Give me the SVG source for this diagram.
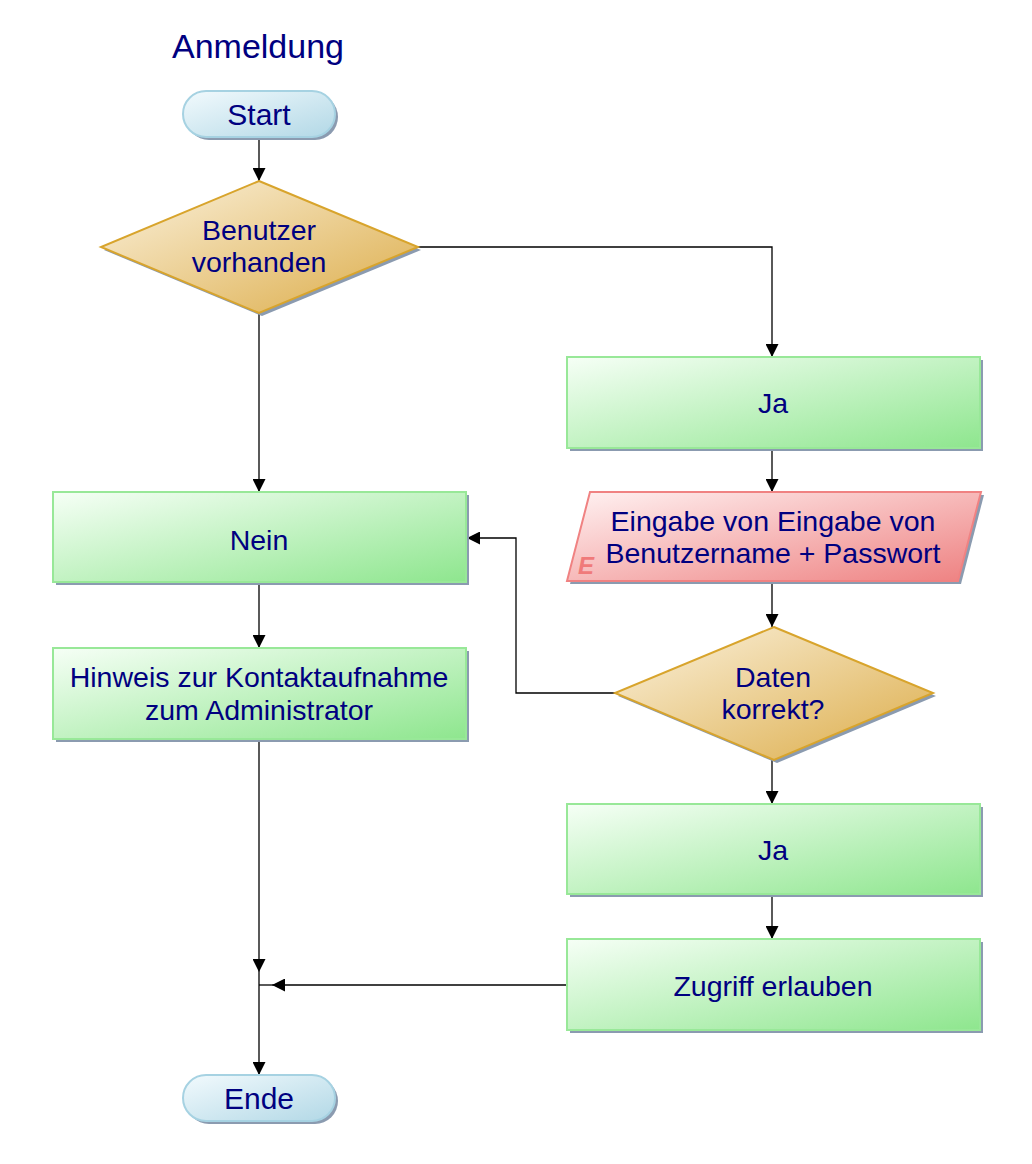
<svg xmlns="http://www.w3.org/2000/svg" width="1032" height="1164" viewBox="0 0 1032 1164">
<defs>
<linearGradient id="gGreen" x1="0" y1="0" x2="1" y2="1"><stop offset="0" stop-color="#f6fff6"/><stop offset="1" stop-color="#8ee68e"/></linearGradient>
<linearGradient id="gGold" x1="0" y1="0" x2="1" y2="1"><stop offset="0" stop-color="#fbf2de"/><stop offset="1" stop-color="#dcac48"/></linearGradient>
<linearGradient id="gBlue" x1="0" y1="0" x2="1" y2="1"><stop offset="0" stop-color="#f2fafd"/><stop offset="1" stop-color="#b2d8e6"/></linearGradient>
<linearGradient id="gRed" x1="0" y1="0" x2="1" y2="1"><stop offset="0" stop-color="#fff2f2"/><stop offset="1" stop-color="#ee8080"/></linearGradient>
<marker id="arr" markerUnits="userSpaceOnUse" markerWidth="13" markerHeight="13" refX="13" refY="6.5" orient="auto" viewBox="0 0 13 13"><path d="M0,0 L13,6.5 L0,13 z" fill="#000"/></marker>
</defs>
<style>
text{font-family:"Liberation Sans",Arial,sans-serif;fill:#000080;text-anchor:middle}
.t{font-size:28.5px}
.term{font-size:30px}
.sh{fill:#8b9bb0}
.box{fill:url(#gGreen);stroke:#98e898;stroke-width:2}
.dia{fill:url(#gGold);stroke:#d8a42c;stroke-width:2}
.ter{fill:url(#gBlue);stroke:#a6d2e2;stroke-width:2}
.par{fill:url(#gRed);stroke:#f08282;stroke-width:2}
.c{fill:none;stroke:#000;stroke-width:1.3}
.ca{fill:none;stroke:#000;stroke-width:1.3;marker-end:url(#arr)}
</style>
<rect width="1032" height="1164" fill="#fff"/>
<text x="172" y="58" style="font-size:34px;text-anchor:start">Anmeldung</text>

<g id="connectors">
<path class="ca" d="M259,137 V181"/>
<path class="ca" d="M418,247 H772 V357"/>
<path class="ca" d="M772,448 V492"/>
<path class="ca" d="M772,581 V627"/>
<path class="ca" d="M772,760 V804"/>
<path class="ca" d="M772,894 V939"/>
<path class="ca" d="M615,693 H516 V538 H467"/>
<path class="ca" d="M259,313 V492"/>
<path class="ca" d="M259,582 V648"/>
<path class="ca" d="M259,739 V972"/>
<path class="ca" d="M259,972 V1075"/>
<path class="ca" d="M567,985 H272"/>
<path class="c" d="M272,985 H259"/>
</g>

<g id="start">
<rect class="sh" x="186" y="94" width="152" height="46" rx="23"/>
<rect class="ter" x="183" y="91" width="152" height="46" rx="23"/>
<text class="term" x="259" y="125">Start</text>
</g>

<g id="benutzer-vorhanden">
<polygon class="sh" points="262,184 421,250 262,316 104,250"/>
<polygon class="dia" points="259,181 418,247 259,313 101,247"/>
<text class="t" x="259" y="240">Benutzer</text>
<text class="t" x="259" y="272">vorhanden</text>
</g>

<g id="ja1">
<rect class="sh" x="570" y="360" width="413" height="91"/>
<rect class="box" x="567" y="357" width="413" height="91"/>
<text class="t" x="773" y="413">Ja</text>
</g>

<g id="eingabe">
<polygon class="sh" points="593,495 984,495 961,584 570,584"/>
<polygon class="par" points="590,492 981,492 958,581 567,581"/>
<text x="586" y="574" style="font-size:24px;font-weight:bold;font-style:italic;fill:#f07a7a">E</text>
<text class="t" x="773" y="531">Eingabe von Eingabe von</text>
<text class="t" x="773" y="563">Benutzername + Passwort</text>
</g>

<g id="daten-korrekt">
<polygon class="sh" points="777,630 936,696 777,763 618,696"/>
<polygon class="dia" points="774,627 933,693 774,760 615,693"/>
<text class="t" x="773" y="687">Daten</text>
<text class="t" x="773" y="719">korrekt?</text>
</g>

<g id="ja2">
<rect class="sh" x="570" y="807" width="413" height="90"/>
<rect class="box" x="567" y="804" width="413" height="90"/>
<text class="t" x="773" y="860">Ja</text>
</g>

<g id="zugriff">
<rect class="sh" x="570" y="942" width="413" height="91"/>
<rect class="box" x="567" y="939" width="413" height="91"/>
<text class="t" x="773" y="996">Zugriff erlauben</text>
</g>

<g id="nein">
<rect class="sh" x="56" y="495" width="413" height="90"/>
<rect class="box" x="53" y="492" width="413" height="90"/>
<text class="t" x="259" y="550">Nein</text>
</g>

<g id="hinweis">
<rect class="sh" x="56" y="651" width="413" height="91"/>
<rect class="box" x="53" y="648" width="413" height="91"/>
<text class="t" x="259" y="687">Hinweis zur Kontaktaufnahme</text>
<text class="t" x="259" y="720">zum Administrator</text>
</g>

<g id="ende">
<rect class="sh" x="186" y="1078" width="152" height="46" rx="23"/>
<rect class="ter" x="183" y="1075" width="152" height="46" rx="23"/>
<text class="term" x="259" y="1109">Ende</text>
</g>
</svg>
